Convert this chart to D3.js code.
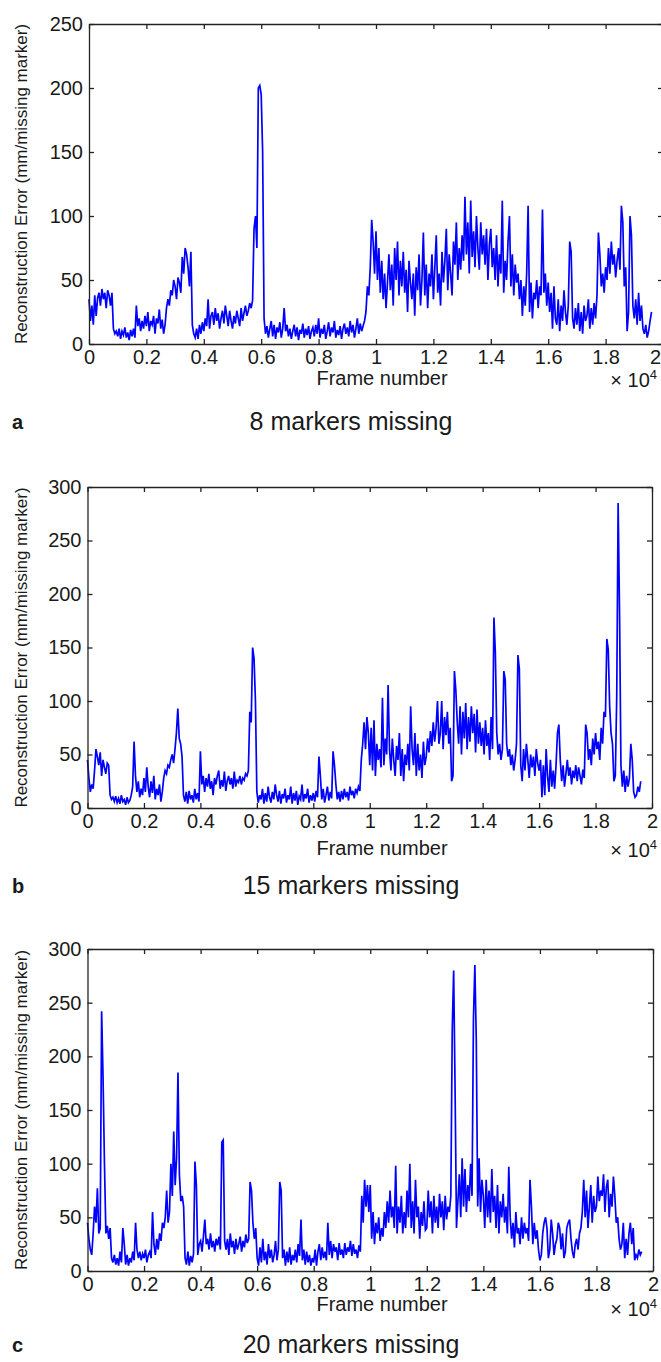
<!DOCTYPE html>
<html>
<head>
<meta charset="utf-8">
<script src="https://cdn.jsdelivr.net/npm/d3@7"></script>
<style>
  html, body { margin: 0; padding: 0; background: #fff; }
  svg { display: block; }
  text { font-family: "Liberation Sans", Arial, Helvetica, sans-serif; fill: #1a1a1a; }
</style>
</head>
<body>
<svg id="chart" width="661" height="1362"></svg>
<script>
// ---------------- DATA ----------------
// frames between consecutive samples of each series
const frameStep = 50;

// Reconstruction error (mm/missing marker), 8 markers missing
const err8 = [
  35,18,30,15,38,22,36,40,30,43,35,40,28,42,38,30,40,12,8,10,
  6,12,4,10,7,13,5,9,3,11,6,12,5,30,14,20,10,18,12,22,
  14,25,10,18,15,22,8,20,16,27,12,19,8,15,28,35,30,42,38,50,
  45,35,52,48,40,68,55,75,70,60,45,72,15,8,5,12,4,15,8,17,
  10,20,14,35,12,22,25,15,28,18,24,12,20,26,16,30,22,14,26,18,
  12,22,16,26,20,14,28,18,24,30,22,26,32,28,34,90,100,75,200,202,
  195,150,20,8,14,5,12,18,6,15,4,13,9,17,5,12,28,10,15,6,
  12,4,10,15,6,13,3,11,8,16,5,12,7,14,4,10,13,6,15,8,
  20,5,12,8,15,4,10,17,6,13,9,18,5,11,7,14,4,12,16,8,
  13,6,18,9,15,5,12,20,8,16,10,14,18,25,45,38,60,97,80,55,
  88,50,75,40,65,35,55,28,48,70,42,62,30,75,50,80,38,65,45,72,
  40,58,25,65,48,35,55,22,60,42,70,30,50,87,38,62,28,55,45,70,
  35,60,85,40,55,30,72,48,65,90,42,70,55,38,80,62,95,50,75,58,
  85,65,115,70,95,55,112,68,88,60,100,75,58,95,70,85,62,90,50,78,
  90,60,75,50,85,45,70,55,112,40,65,50,80,100,45,70,38,62,48,55,
  35,50,22,45,30,55,108,25,48,20,40,35,50,28,45,38,105,40,55,30,
  48,25,40,12,45,20,15,35,10,30,18,42,25,15,30,80,72,20,12,28,
  15,32,10,25,8,30,18,22,35,12,28,15,32,20,38,87,70,45,55,40,
  60,50,75,55,80,62,70,52,65,75,58,108,95,45,60,10,25,100,85,30,
  20,35,15,40,18,30,12,8,15,5,10,18,25
];

// 15 markers missing
const err15 = [
  45,28,15,22,18,35,55,48,40,52,30,45,38,32,42,40,12,8,10,6,
  11,5,9,4,12,6,8,3,10,5,7,12,20,62,30,15,25,10,18,12,
  28,15,38,20,10,25,14,30,8,18,12,22,6,15,28,35,32,40,38,45,
  50,42,55,70,93,65,60,48,12,6,15,4,16,8,12,5,18,8,14,6,
  53,22,30,15,28,20,32,18,25,12,28,22,30,35,18,26,20,34,16,25,
  30,22,28,18,34,20,26,24,30,22,28,26,32,30,35,90,80,150,140,100,
  15,5,12,8,18,4,14,6,20,10,5,15,8,22,12,6,16,4,13,9,
  18,5,12,8,20,4,14,7,16,3,11,8,22,6,13,9,18,5,12,7,
  14,6,16,10,48,30,8,18,5,12,20,7,15,9,53,40,22,8,15,6,
  16,8,18,10,15,7,20,12,16,9,18,14,20,16,45,60,80,55,85,70,
  40,75,35,82,30,60,45,55,38,103,40,65,50,115,55,35,65,45,30,58,
  45,70,30,55,25,50,40,60,35,95,55,40,70,30,60,35,50,28,62,40,
  48,65,52,72,58,80,62,75,100,60,70,100,55,85,68,90,60,75,25,30,
  128,110,80,60,95,50,90,65,98,55,85,62,95,70,88,52,92,60,80,58,
  75,50,82,58,70,45,85,55,178,145,70,50,60,45,55,128,120,60,48,55,
  40,50,35,45,60,143,130,40,25,55,35,60,45,28,50,38,48,30,55,42,
  35,45,10,40,12,55,30,15,45,20,35,18,40,70,78,45,25,40,20,32,
  45,30,38,22,35,28,40,25,38,30,22,36,28,78,70,45,55,40,65,50,
  70,55,62,45,75,60,90,85,158,148,95,70,60,25,30,103,285,183,40,20,
  35,15,30,20,28,60,45,15,10,12,20,15,25
];

// 20 markers missing
const err20 = [
  45,30,20,15,35,60,45,77,35,40,242,180,100,35,42,30,40,12,8,15,
  6,12,5,18,8,40,25,6,15,5,12,8,18,10,45,20,12,18,10,16,
  12,20,8,15,18,12,55,25,15,30,20,35,28,45,40,50,75,45,55,100,
  70,130,80,105,185,90,65,70,60,12,6,18,5,14,8,16,102,80,15,25,
  28,18,32,48,25,30,20,35,22,28,18,30,24,32,20,120,122,28,20,30,
  15,35,22,28,16,30,20,25,32,18,28,22,34,26,30,83,75,45,30,40,
  12,5,22,8,30,10,18,6,25,12,20,8,15,28,10,20,83,75,12,20,
  5,18,8,22,6,15,10,20,8,25,14,48,10,20,6,18,8,15,5,12,
  8,20,5,18,25,10,22,12,18,10,45,15,28,12,25,18,22,10,26,15,
  20,12,26,15,22,18,28,14,25,16,20,12,24,18,70,45,85,60,80,55,
  80,30,55,25,45,35,50,28,40,32,55,40,65,45,75,50,60,40,98,35,
  60,45,70,35,55,40,75,50,100,40,65,35,85,50,60,30,55,42,65,38,
  40,75,50,65,35,70,45,60,40,72,50,65,38,70,48,60,55,70,225,280,
  170,40,65,90,50,105,60,95,55,80,65,100,70,235,285,215,60,105,55,85,
  70,40,85,50,75,45,95,55,70,40,80,35,65,50,72,45,60,35,97,50,
  30,45,22,55,35,40,25,50,30,45,35,40,28,85,60,25,45,30,38,20,
  10,15,35,45,50,40,12,20,48,35,15,25,30,45,40,20,35,12,18,40,
  45,48,30,18,12,25,30,20,35,40,55,85,50,75,40,60,80,45,70,55,
  60,88,65,75,70,90,55,78,85,50,72,60,88,70,45,50,30,20,25,45,
  12,30,15,35,45,25,40,10,15,12,20,15,18
];

const xTickValues = [0,2000,4000,6000,8000,10000,12000,14000,16000,18000,20000];
const xTickLabels = ["0","0.2","0.4","0.6","0.8","1","1.2","1.4","1.6","1.8","2"];
const yTicks250 = [0,50,100,150,200,250];
const yTicks300 = [0,50,100,150,200,250,300];
const panelTitles = ["8 markers missing","15 markers missing","20 markers missing"];
const panelLetters = ["a","b","c"];
const xLabel = "Frame number";
const yLabel = "Reconstruction Error (mm/missing marker)";

// ---------------- LAYOUT ----------------
const layout = [
  {left: 89,   right: 663, top: 24,  bottom: 344,  yMax: 250, xLabelY: 385,  expoY: 387,  titleY: 430},
  {left: 87.5, right: 652, top: 487, bottom: 808,  yMax: 300, xLabelY: 855,  expoY: 857,  titleY: 894},
  {left: 87.5, right: 653, top: 949, bottom: 1271, yMax: 300, xLabelY: 1311, expoY: 1316, titleY: 1353}
];
const seriesList = [err8, err15, err20];
const yTickList = [yTicks250, yTicks300, yTicks300];

const svg = d3.select("#chart");
svg.append("rect").attr("width", 661).attr("height", 1362).attr("fill", "#fff");

layout.forEach((L, p) => {
  const vals = seriesList[p];
  const data = vals.map((v, i) => ({frame: i * frameStep, err: v}));

  const x = d3.scaleLinear().domain([0, 20000]).range([L.left, L.right]);
  const y = d3.scaleLinear().domain([0, L.yMax]).range([L.bottom, L.top]);

  const g = svg.append("g");

  const line = d3.line().x(d => x(d.frame)).y(d => y(d.err));
  g.append("path")
    .datum(data)
    .attr("d", line)
    .attr("fill", "none")
    .attr("stroke", "#0000ff")
    .attr("stroke-width", 1.7)
    .attr("stroke-linejoin", "miter");

  const fmt = d => xTickLabels[xTickValues.indexOf(d)];

  const axB = g.append("g").attr("transform", `translate(0,${L.bottom})`)
    .call(d3.axisBottom(x).tickValues(xTickValues).tickFormat(fmt)
      .tickSizeInner(-5).tickSizeOuter(0).tickPadding(6));
  const axL = g.append("g").attr("transform", `translate(${L.left},0)`)
    .call(d3.axisLeft(y).tickValues(yTickList[p]).tickFormat(d3.format("d"))
      .tickSizeInner(-5).tickSizeOuter(0).tickPadding(6));
  const axT = g.append("g").attr("transform", `translate(0,${L.top})`)
    .call(d3.axisTop(x).tickValues(xTickValues).tickFormat("")
      .tickSizeInner(-5).tickSizeOuter(0));
  const axR = g.append("g").attr("transform", `translate(${L.right},0)`)
    .call(d3.axisRight(y).tickValues(yTickList[p]).tickFormat("")
      .tickSizeInner(-5).tickSizeOuter(0));

  [axB, axL, axT, axR].forEach(a => {
    a.selectAll("path.domain").attr("stroke", "#222").attr("stroke-width", 1.3);
    a.selectAll(".tick line").attr("stroke", "#222").attr("stroke-width", 1.3);
    a.selectAll(".tick text")
      .style("font-family", '"Liberation Sans", Arial, sans-serif')
      .style("font-size", "20px").attr("fill", "#1a1a1a");
  });

  // keep the last x tick label inside the picture when the axis runs past the edge
  axB.selectAll(".tick text").filter(d => d === 20000 && x(d) > 655).attr("x", -8);

  g.append("text")
    .attr("x", 382)
    .attr("y", L.xLabelY)
    .attr("text-anchor", "middle")
    .style("font-size", "20px")
    .text(xLabel);

  const expo = g.append("text")
    .attr("x", 657)
    .attr("y", L.expoY)
    .attr("text-anchor", "end")
    .style("font-size", "20px");
  expo.append("tspan").text("\u00d7 10");
  expo.append("tspan").attr("dy", -8).style("font-size", "13px").text("4");

  g.append("text")
    .attr("transform", `translate(27,${(L.top + L.bottom) / 2}) rotate(-90)`)
    .attr("text-anchor", "middle")
    .style("font-size", "17px")
    .text(yLabel);

  g.append("text")
    .attr("x", 351)
    .attr("y", L.titleY)
    .attr("text-anchor", "middle")
    .style("font-size", "25px")
    .text(panelTitles[p]);

  g.append("text")
    .attr("x", 12)
    .attr("y", L.titleY - 1)
    .style("font-size", "20px")
    .style("font-weight", "bold")
    .text(panelLetters[p]);
});
</script>
</body>
</html>
